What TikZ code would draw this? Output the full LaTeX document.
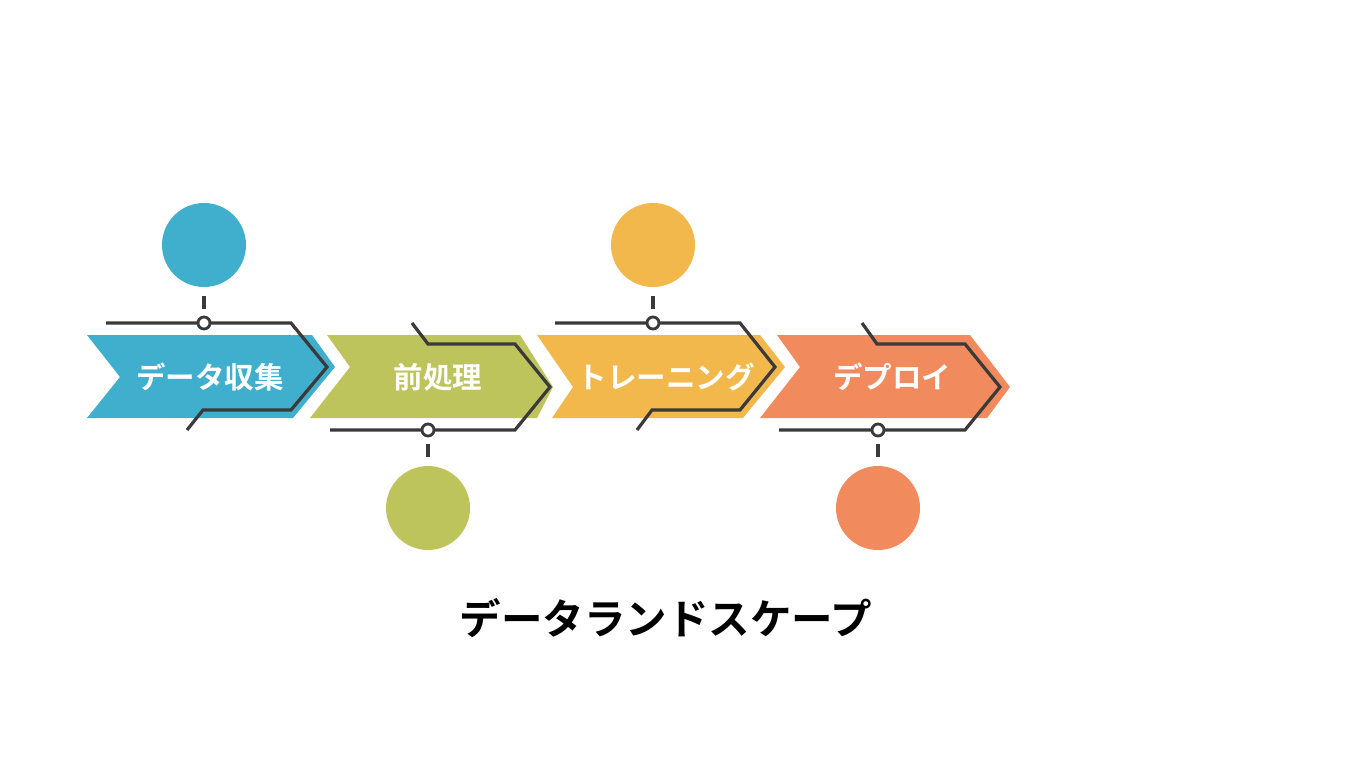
\documentclass[tikz,border=0pt]{standalone}
\usepackage{fontspec}
\newfontfamily\cjkb{Noto Sans CJK JP Bold}
\definecolor{cblue}{HTML}{40AECD}
\definecolor{cgreen}{HTML}{BEC45C}
\definecolor{corange}{HTML}{F3B84B}
\definecolor{csalmon}{HTML}{F18B5E}
\definecolor{wirec}{HTML}{3A3A3A}
\begin{document}
\begin{tikzpicture}[x=1pt,y=-1pt,
  wire/.style={draw=wirec,line width=3.2pt,line join=miter,line cap=butt},
  junction/.style={circle,draw=wirec,line width=2.8pt,fill=white,minimum size=12pt,inner sep=0pt},
  bigdot/.style={circle,minimum size=84pt,inner sep=0pt},
  steplabel/.style={text=white,font=\cjkb\fontsize{29.5}{34}\selectfont,inner sep=0pt},
  titlelabel/.style={text=black,font=\cjkb\fontsize{41.5}{46}\selectfont,inner sep=0pt}]
\fill[white] (0,0) rectangle (1365,768);
\useasboundingbox (0,0) rectangle (1365,768);

% chevrons
\fill[cblue] (87,335) -- (312,335) -- (335,367) -- (293,418) -- (87,418) -- (120,377) -- cycle;
\fill[cgreen] (327,335) -- (520,335) -- (553,387) -- (537,418) -- (310,418) -- (350,367) -- cycle;
\fill[corange] (537,335) -- (760,335) -- (785,367) -- (743,418) -- (552,418) -- (573,387) -- cycle;
\fill[csalmon] (777,335) -- (970,335) -- (1010,387) -- (987,418) -- (760,418) -- (800,367) -- cycle;

% labels
\node[steplabel] (l1) at (210,377) {データ収集};
\node[steplabel] (l2) at (438,377) {前処理};
\node[steplabel] (l3) at (666,377) {トレーニング};
\node[steplabel] (l4) at (892,377) {デプロイ};

% big circles
\node[bigdot,fill=cblue] (c1) at (204,245) {};
\node[bigdot,fill=cgreen] (c2) at (428,508) {};
\node[bigdot,fill=corange] (c3) at (653,245) {};
\node[bigdot,fill=csalmon] (c4) at (878,508) {};

% wire coordinates
\coordinate (a0) at (106,323); \coordinate (a1) at (291,323); \coordinate (a2) at (327,367);
\coordinate (a3) at (291,410); \coordinate (a4) at (203,410); \coordinate (a5) at (187,430);
\coordinate (b0) at (412,323); \coordinate (b1) at (428,344); \coordinate (b2) at (515,344);
\coordinate (b3) at (550,387); \coordinate (b4) at (515,430); \coordinate (b5) at (330,430);
\coordinate (d0) at (555,323); \coordinate (d1) at (740,323); \coordinate (d2) at (775,367);
\coordinate (d3) at (740,410); \coordinate (d4) at (652,410); \coordinate (d5) at (637,430);
\coordinate (e0) at (862,323); \coordinate (e1) at (877,344); \coordinate (e2) at (965,344);
\coordinate (e3) at (1000,387); \coordinate (e4) at (965,430); \coordinate (e5) at (779,430);

\draw[wire] (a0) -- (a1) -- (a2) -- (a3) -- (a4) -- (a5);
\draw[wire] (b0) -- (b1) -- (b2) -- (b3) -- (b4) -- (b5);
\draw[wire] (d0) -- (d1) -- (d2) -- (d3) -- (d4) -- (d5);
\draw[wire] (e0) -- (e1) -- (e2) -- (e3) -- (e4) -- (e5);

% junctions
\node[junction] (j1) at (204,323) {};
\node[junction] (j2) at (428,430) {};
\node[junction] (j3) at (653,323) {};
\node[junction] (j4) at (878,430) {};

% ticks
\coordinate (t1a) at (204,296); \coordinate (t1b) at (204,309);
\coordinate (t2a) at (428,444); \coordinate (t2b) at (428,457);
\coordinate (t3a) at (653,296); \coordinate (t3b) at (653,309);
\coordinate (t4a) at (878,444); \coordinate (t4b) at (878,457);
\draw[wire] (t1a) -- (t1b);
\draw[wire] (t2a) -- (t2b);
\draw[wire] (t3a) -- (t3b);
\draw[wire] (t4a) -- (t4b);

% title
\node[titlelabel] (title) at (666,618) {データランドスケープ};
\end{tikzpicture}
\end{document}
